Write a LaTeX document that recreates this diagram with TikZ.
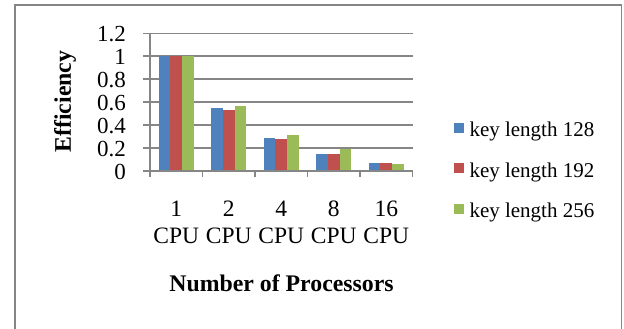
\documentclass[tikz,border=0pt]{standalone}
\usepackage{fontspec}
\setmainfont{Liberation Serif}
\definecolor{serA}{HTML}{4F81BD}
\definecolor{serB}{HTML}{C0504D}
\definecolor{serC}{HTML}{9BBB59}
\definecolor{axisgray}{HTML}{868686}
\begin{document}
\begin{tikzpicture}[x=1pt,y=-1pt,
  frame/.style={draw=axisgray,line width=1.5pt},
  gridline/.style={draw=axisgray,line width=1.6pt},
  ticklabel/.style={font=\fontsize{23}{27}\selectfont,inner sep=0pt},
  catlabel/.style={font=\fontsize{23.5}{26.6}\selectfont,inner sep=0pt,align=center},
  title/.style={font=\fontsize{23.8}{28}\selectfont\bfseries,inner sep=0pt},
  legtext/.style={font=\fontsize{21}{25}\selectfont,inner sep=0pt,anchor=base west},
  legkey/.style={minimum width=10pt,minimum height=10pt,inner sep=0pt}]
\useasboundingbox (0,0) rectangle (624,329);
% chart frame (bottom edge lies below the page)
\draw[frame] (15,335) -- (15,5) -- (621.5,5) -- (621.5,335);
% value scale: 0 at y=171, 114.75 per unit
\def\yz{171}\def\ys{114.75}
% horizontal grid lines with left ticks
\foreach \v in {0.2,0.4,...,1.21}
  \draw[gridline] (143,{\yz-\v*\ys}) -- (412.5,{\yz-\v*\ys});
% bars: category, value A, value B, value C
\foreach \k/\a/\b/\c in {0/1/1/1,1/0.55/0.53/0.57,2/0.29/0.28/0.31,3/0.145/0.145/0.195,4/0.07/0.07/0.06}{
  \pgfmathsetmacro{\xo}{150+\k*52.5}
  \fill[serA] ({\xo+8.75},\yz) rectangle ({\xo+20.42},{\yz-\a*\ys});
  \fill[serB] ({\xo+20.42},\yz) rectangle ({\xo+32.08},{\yz-\b*\ys});
  \fill[serC] ({\xo+32.08},\yz) rectangle ({\xo+43.75},{\yz-\c*\ys});
}
% axes
\draw[gridline] (143,\yz) -- (412.5,\yz);
\draw[gridline] (150,{\yz-1.2*\ys}) -- (150,177);
\foreach \k in {1,...,5}
  \draw[gridline] ({150+\k*52.5},\yz) -- ({150+\k*52.5},177);
% value labels
\foreach \v/\t in {0/0,0.2/0.2,0.4/0.4,0.6/0.6,0.8/0.8,1/1,1.2/1.2}
  \node[ticklabel,anchor=east] (y\t) at (126,{\yz-\v*\ys+1}) {\t};
% category labels (anchored on the baseline of the second line)
\foreach \k/\n in {0/1,1/2,2/4,3/8,4/16}
  \node[catlabel,anchor=base] (c\n) at ({176.25+\k*52.5},243.3) {\n\\CPU};
% axis titles
\node[title,rotate=90] (ytitle) at (65,101.5) {Efficiency};
\node[title,anchor=base] (xtitle) at (281.5,291) {Number of Processors};
% legend
\foreach \i/\col/\t in {0/serA/128,1/serB/192,2/serC/256}{
  \node[legkey,fill=\col] (k\t) at (459.3,{127.5+\i*40.5}) {};
  \node[legtext] (l\t) at (469.3,{136.5+\i*40.5}) {key length \t};
}
\end{tikzpicture}
\end{document}
